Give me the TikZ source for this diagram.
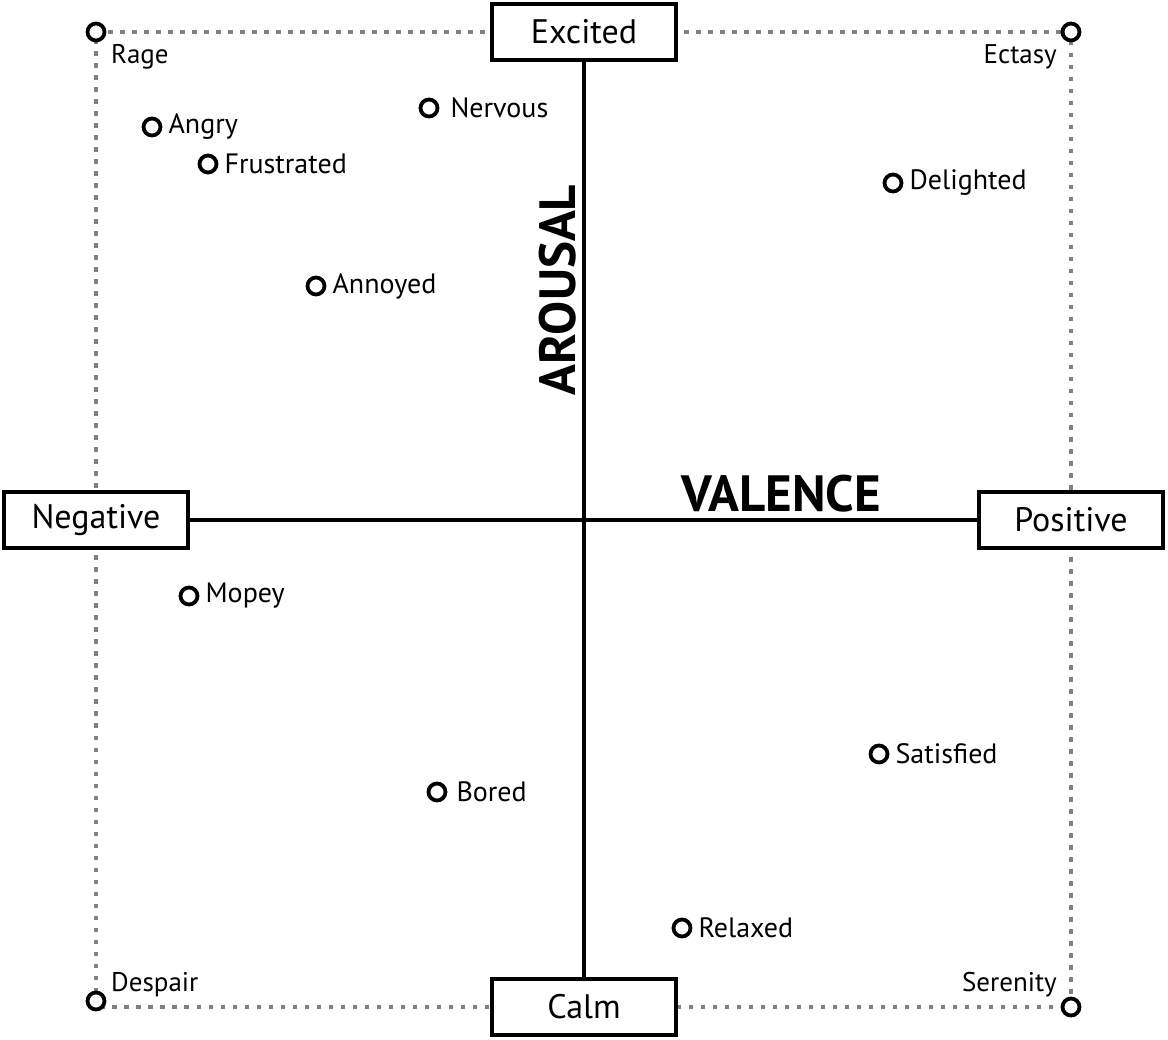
\documentclass[tikz,border=0pt]{standalone}
\usepackage{fontspec}
\setmainfont{PT Sans}
\begin{document}
\begin{tikzpicture}[x=1pt,y=-1pt,
  axisbox/.style={draw=black,line width=4.5pt,fill=white,minimum width=184pt,minimum height=56pt,inner sep=0pt,font=\fontsize{34}{34}\selectfont},
  axisline/.style={draw=black,line width=4.5pt},
  frame/.style={draw=black!50,line width=3.5pt,dash pattern=on 4.5pt off 7.5pt},
  dot/.style={circle,draw=black,line width=3.8pt,fill=white,minimum size=17pt,inner sep=0pt},
  ptlabel/.style={anchor=west,inner sep=0pt,font=\fontsize{28}{28}\selectfont},
  cornerlabel/.style={inner sep=0pt,font=\fontsize{27}{27}\selectfont},
  axistitle/.style={inner sep=0pt,font=\fontsize{51}{51}\selectfont\bfseries}]
\useasboundingbox (0,0) rectangle (1168,1040);
% corner coordinates
\coordinate (tl) at (96,32);
\coordinate (tr) at (1071,32);
\coordinate (bl) at (96,1007);
\coordinate (br) at (1071,1007);
% dotted frame
\draw[frame] (tl) -- (tr) -- (br) -- (bl) -- cycle;
% axes
\node[axisbox] (excited) at (584,32) {Excited};
\node[axisbox] (calm) at (584,1007) {Calm};
\node[axisbox] (negative) at (96,520) {Negative};
\node[axisbox] (positive) at (1071,520) {Positive};
\draw[axisline] (excited.south) -- (calm.north);
\draw[axisline] (negative.east) -- (positive.west);
% axis titles
\node[axistitle] (valence) at (781,494) {VALENCE};
\node[axistitle,rotate=90] (arousal) at (558,290) {AROUSAL};
% corner dots
\node[dot] (cRage) at (tl) {};
\node[dot] (cEctasy) at (tr) {};
\node[dot] (cDespair) at (96,1001) {};
\node[dot] (cSerenity) at (br) {};
\node[cornerlabel,anchor=west] (lRage) at (111,57) {Rage};
\node[cornerlabel,anchor=east] (lEctasy) at (1057,57) {Ectasy};
\node[cornerlabel,anchor=west] (lDespair) at (111,985) {Despair};
\node[cornerlabel,anchor=east] (lSerenity) at (1057,985) {Serenity};
% emotion points
\node[dot] (angry) at (152,127) {};
\node[ptlabel] (lAngry) at ([xshift=6pt]angry.east) {Angry};
\node[dot] (frustrated) at (208,164) {};
\node[ptlabel] (lFrustrated) at ([xshift=6pt]frustrated.east) {Frustrated};
\node[dot] (nervous) at (429,108) {};
\node[ptlabel] (lNervous) at ([xshift=11pt]nervous.east) {Nervous};
\node[dot] (annoyed) at (316,286) {};
\node[ptlabel] (lAnnoyed) at ([xshift=6pt]annoyed.east) {Annoyed};
\node[dot] (delighted) at (893,183) {};
\node[ptlabel] (lDelighted) at ([xshift=6pt]delighted.east) {Delighted};
\node[dot] (mopey) at (189,596) {};
\node[ptlabel] (lMopey) at ([xshift=6pt]mopey.east) {Mopey};
\node[dot] (satisfied) at (879,754) {};
\node[ptlabel] (lSatisfied) at ([xshift=6pt]satisfied.east) {Satisfied};
\node[dot] (bored) at (437,792) {};
\node[ptlabel] (lBored) at ([xshift=9pt]bored.east) {Bored};
\node[dot] (relaxed) at (682,928) {};
\node[ptlabel] (lRelaxed) at ([xshift=6pt]relaxed.east) {Relaxed};
\end{tikzpicture}
\end{document}
